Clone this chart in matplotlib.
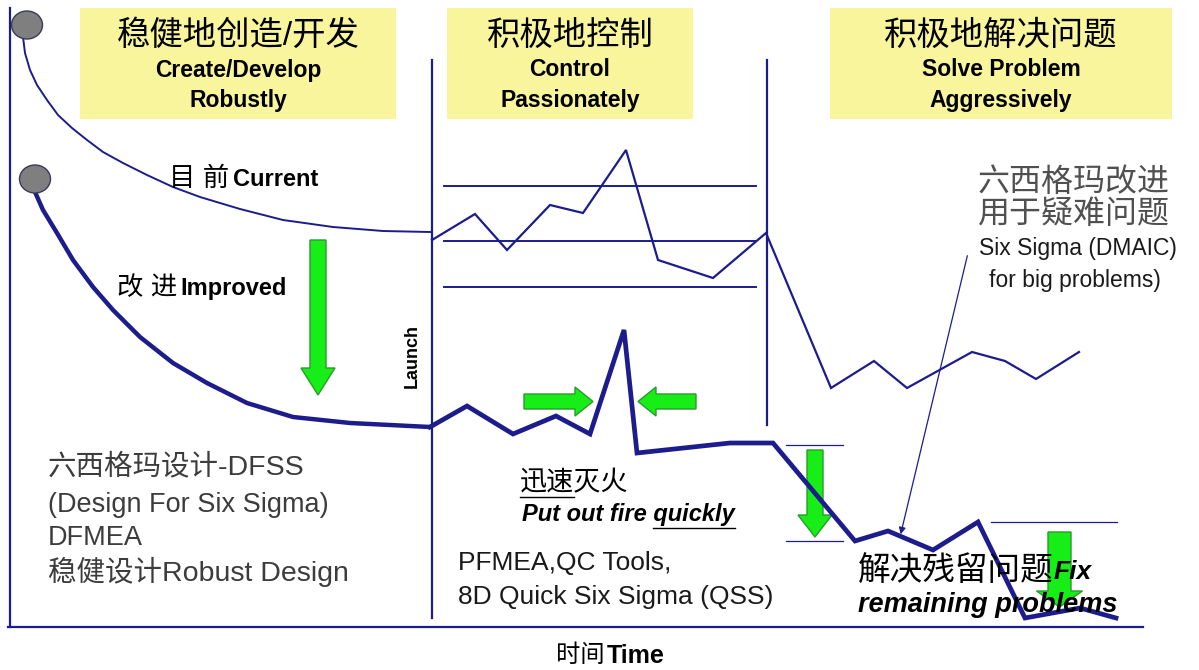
import matplotlib.pyplot as plt
from matplotlib.patches import Rectangle, Ellipse, FancyArrow

plt.rcParams['font.family'] = ['Liberation Sans', 'Noto Sans CJK SC']

navy = '#1c1c8c'
green = '#17ee17'
green_edge = '#2a9a2a'

# "current" capability curve (picture coords, y grows downward)
cur_x = [23, 25, 30, 37, 47, 58, 72, 87, 103, 123, 147, 173, 200, 240, 283, 333, 383, 430]
cur_y = [37, 53, 70, 85, 100, 115, 128, 140, 152, 163, 175, 187, 197, 209, 220, 227, 231, 232]
# current process after launch
cur_run_x = [432, 475, 507, 550, 583, 626, 658, 713, 766, 831, 874, 907, 972, 1005, 1036, 1079]
cur_run_y = [240, 214, 250, 205, 213, 150, 260, 278, 233, 388, 361, 388, 352, 361, 379, 352]
# control limits (UCL, CL, LCL)
ctrl_lim = [186, 241, 287]
ctrl_x = [444, 756]

# "improved" curve
imp_x = [35, 43, 57, 73, 93, 113, 140, 173, 207, 247, 293, 350, 430]
imp_y = [192, 210, 233, 260, 287, 310, 337, 363, 383, 403, 417, 423, 427]
imp_run_x = [430, 467, 513, 556, 590, 624, 637, 730, 773, 855, 888, 933, 978, 1025, 1080, 1116]
imp_run_y = [427, 406, 434, 416, 434, 330, 453, 443, 443, 541, 531, 550, 522, 618, 608, 618]

headers_cn = ['稳健地创造/开发', '积极地控制', '积极地解决问题']
headers_en = [['Create/Develop', 'Robustly'], ['Control', 'Passionately'],
              ['Solve Problem', 'Aggressively']]

fig = plt.figure(figsize=(11.99, 6.70), dpi=100)
ax = fig.add_axes([0, 0, 1, 1])
ax.set_xlim(0, 1199)
ax.set_ylim(670, 0)
ax.axis('off')
renderer = fig.canvas.get_renderer()


def text_width(s, **kw):
    # width of a string in data (pixel) units
    t = ax.text(0, 0, s, **kw)
    bb = t.get_window_extent(renderer)
    t.remove()
    return bb.width


# yellow header boxes
boxes = [(80, 316), (447, 246), (830, 342)]
for (bx, bw), cn, en in zip(boxes, headers_cn, headers_en):
    ax.add_patch(Rectangle((bx, 8), bw, 111, facecolor='#f9f59c', edgecolor='none', zorder=0))
    cx = bx + bw / 2
    ax.text(cx, 36, cn, fontsize=24, ha='center', va='center')
    ax.text(cx, 70, en[0], fontsize=16.5, weight='bold', ha='center', va='center')
    ax.text(cx, 100, en[1], fontsize=16.5, weight='bold', ha='center', va='center')

# frame lines
ax.plot([10, 10], [8, 627], color=navy, lw=1.6)
ax.plot([8, 1143], [627, 627], color=navy, lw=1.6)
ax.plot([432, 432], [60, 618], color=navy, lw=1.6)
ax.plot([767, 767], [60, 425], color=navy, lw=1.6)

# curves
ax.plot(cur_x, cur_y, color=navy, lw=1.4, solid_joinstyle='round')
ax.plot(cur_run_x, cur_run_y, color=navy, lw=1.6, solid_joinstyle='miter')
for y in ctrl_lim:
    ax.plot(ctrl_x, [y, y], color=navy, lw=1.4)
ax.plot(imp_x, imp_y, color=navy, lw=3.2, solid_joinstyle='round', solid_capstyle='butt')
ax.plot(imp_run_x, imp_run_y, color=navy, lw=3.4, solid_joinstyle='miter')

# reference lines around the drops
ax.plot([786, 843], [445, 445], color=navy, lw=0.9)
ax.plot([786, 843], [541, 541], color=navy, lw=0.9)
ax.plot([991, 1117], [522, 522], color=navy, lw=0.9)

# start circles
for cx, cy in [(27, 25), (35, 179)]:
    ax.add_patch(Ellipse((cx, cy), 31, 28, facecolor='#7f7f7f', edgecolor='#3a3a5a', lw=1, zorder=5))

# green arrows
arrows = [
    (318, 240, 0, 155, 16, 34, 27),
    (815, 450, 0, 87, 16, 34, 22),
    (1059.5, 532, 0, 75, 23, 46, 16),
    (524, 401.5, 69, 0, 15, 29, 18),
    (696, 401.5, -58, 0, 15, 29, 18),
]
for x, y, dx, dy, w, hw, hl in arrows:
    ax.add_patch(FancyArrow(x, y, dx, dy, width=w, head_width=hw, head_length=hl,
                            length_includes_head=True, facecolor=green,
                            edgecolor=green_edge, lw=1, zorder=1.5))

# pointer from DMAIC note
ax.annotate('', xy=(900, 537), xytext=(968, 253),
            arrowprops=dict(arrowstyle='-|>', color=navy, lw=0.9, mutation_scale=10))

# curve labels
ax.text(229, 179, '目 前', fontsize=19, ha='right', va='center')
ax.text(233, 179, 'Current', fontsize=17, weight='bold', ha='left', va='center')
ax.text(177, 288, '改 进', fontsize=19, ha='right', va='center')
ax.text(180, 288, 'Improved', fontsize=17, weight='bold', ha='left', va='center')
ax.text(412, 356, 'Launch', fontsize=13, weight='bold', rotation=90, ha='center', va='center')

# left lower notes
grey = '#3c3c3c'
ax.text(48, 467, '六西格玛设计-DFSS', fontsize=20.5, color=grey, va='center')
ax.text(48, 505, '(Design For Six Sigma)', fontsize=19.5, color=grey, va='center')
ax.text(48, 538, 'DFMEA', fontsize=19.5, color=grey, va='center')
ax.text(48, 572, '稳健设计Robust Design', fontsize=20.5, color=grey, va='center')

# middle notes
ax.text(520, 483, '迅速灭火', fontsize=19.5, style='italic', va='center')
w2 = text_width('迅速', fontsize=19.5)
ax.plot([520, 520 + w2], [497, 497], color='black', lw=1)
fire_kw = dict(fontsize=17, weight='bold', style='italic')
ax.text(522, 515, 'Put out fire quickly', va='center', **fire_kw)
x0 = 522 + text_width('Put out fire ', **fire_kw)
x1 = 522 + text_width('Put out fire quickly', **fire_kw)
ax.plot([x0, x1], [528, 528], color='black', lw=1)
ax.text(458, 563, 'PFMEA,QC Tools,', fontsize=19, color='#1a1a1a', va='center')
ax.text(458, 597, '8D Quick Six Sigma (QSS)', fontsize=19, color='#1a1a1a', va='center')

# right notes
ax.text(1074, 183, '六西格玛改进', fontsize=23, color='#505050', ha='center', va='center')
ax.text(1074, 215, '用于疑难问题', fontsize=23, color='#505050', ha='center', va='center')
ax.text(1078, 248, 'Six Sigma (DMAIC)', fontsize=16.5, color='#1a1a1a', ha='center', va='center')
ax.text(1075, 280, 'for big problems)', fontsize=16.5, color='#1a1a1a', ha='center', va='center')

fix_cn_kw = dict(fontsize=23.5, style='italic')
ax.text(858, 572, '解决残留问题', va='center', **fix_cn_kw)
ax.text(858 + text_width('解决残留问题', **fix_cn_kw), 572, 'Fix', fontsize=19,
        weight='bold', style='italic', va='center')
ax.text(858, 605, 'remaining problems', fontsize=19.5, weight='bold', style='italic', va='center')

# x axis label
ax.text(605, 656, '时间', fontsize=17.5, ha='right', va='center')
ax.text(607, 656, 'Time', fontsize=18, weight='bold', ha='left', va='center')

fig.savefig('out.png', dpi=100)
